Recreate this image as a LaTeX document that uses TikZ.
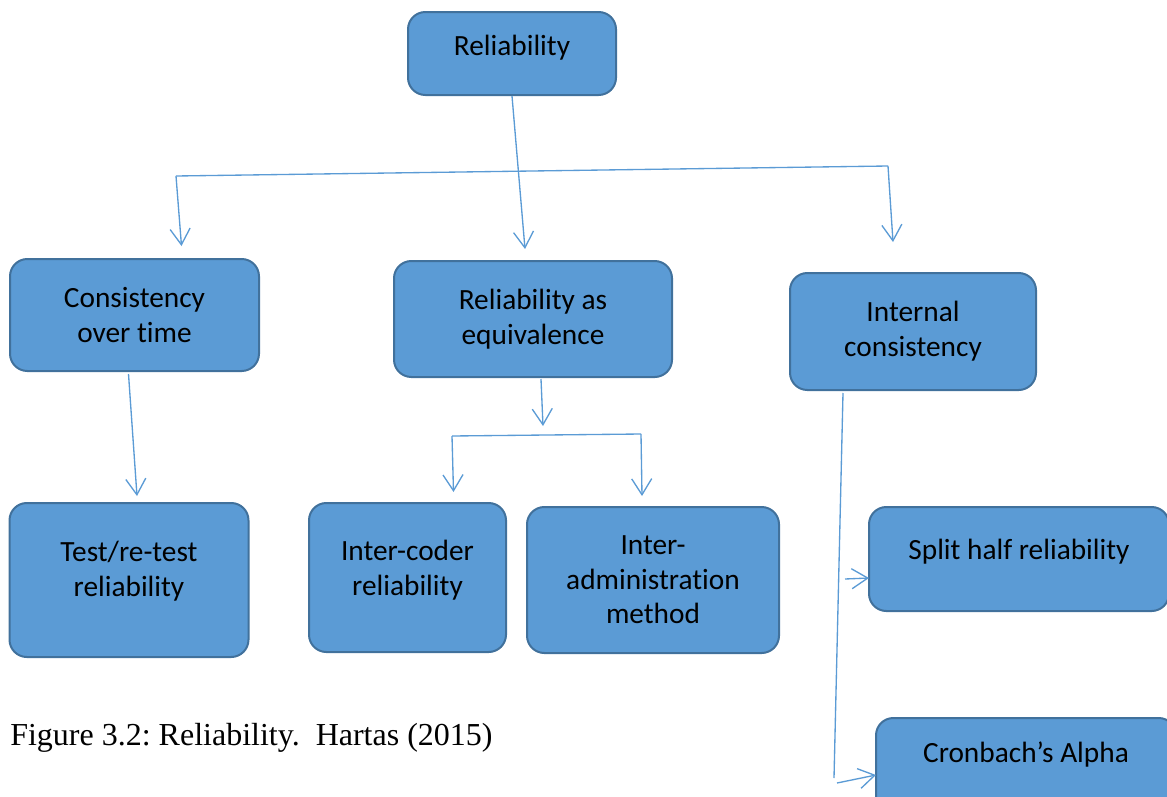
\documentclass[tikz,border=0pt]{standalone}
\usepackage{fontspec}
\setmainfont{Carlito}[Ligatures=NoCommon]
\newfontfamily\capfont{Liberation Serif}
\usetikzlibrary{arrows.meta,calc}
\definecolor{boxfill}{HTML}{5B9BD5}
\definecolor{boxline}{HTML}{41719C}
\definecolor{linkcol}{HTML}{5B9BD5}

\begin{document}
\begin{tikzpicture}[x=0.75pt, y=-0.75pt,
    box/.style={draw=boxline, fill=boxfill, line width=1.5pt, rounded corners=13pt,
      align=center, font=\fontsize{22}{26}\selectfont},
    link/.style={draw=linkcol, line width=1pt},
    arr/.style={link, -{Straight Barb[length=12pt, width=15pt]}}]
    \useasboundingbox (0,0) rectangle (1167,796);

    % --- Top: Reliability ---
    \node[box, minimum width=156pt, minimum height=62.25pt, text height=10pt, text depth=7.2pt] (rel) at (512,53.5) {Reliability};

    % --- Middle row ---
    \node[box, minimum width=186.75pt, minimum height=84pt] (cons) at (134.5,315) {Consistency\\over time};
    \node[box, minimum width=208.5pt, minimum height=87pt] (equiv) at (533,319) {Reliability as\\equivalence};
    \node[box, minimum width=184.5pt, minimum height=87.75pt] (intc) at (913,331.5) {Internal\\consistency};

    % --- Bottom row ---
    \node[box, minimum width=179.25pt, minimum height=115.5pt, text depth=16.5pt] (test) at (129,580) {Test/re-test\\reliability};
    \node[box, minimum width=147.75pt, minimum height=111.75pt, text depth=14.5pt] (coder) at (407.5,577.5) {Inter-coder\\reliability};
    \node[box, minimum width=189pt, minimum height=109.5pt] (admin) at (653,580) {Inter-\\administration\\method};
    \node[box, minimum width=225pt, minimum height=78pt, text height=10pt, text depth=9.5pt] (split) at (1019,559) {Split half reliability};
    \node[box, anchor=north, minimum width=225pt, minimum height=82.5pt, text height=10pt, text depth=26pt] (cron) at (1026,717) {Cronbach’s Alpha};

    % Caption
    \node[anchor=base west, inner sep=0pt, font=\capfont\fontsize{24}{28}\selectfont] (cap) at (10,745) {\frenchspacing Figure 3.2: Reliability.\hspace{0.5em}Hartas (2015)};

    % Branch from the top
    \coordinate (jl) at (176,176);
    \coordinate (jr) at (888,166);
    \draw[link] (jl) -- (jr);
    \draw[arr] (rel.south) -- ($(equiv.north)+(-8,-11)$);
    \draw[arr] (jl) -- ($(cons.north)+(47,-12)$);
    \draw[arr] (jr) -- ($(intc.north)+(-20,-30)$);

    % Consistency over time
    \draw[arr] ($(cons.south)+(-6,2)$) -- ($(test.north)+(8,-6)$);

    % Equivalence
    \coordinate (eqtip) at (543,426);
    \coordinate (sl) at (452,436);
    \coordinate (sr) at (641,434);
    \draw[arr] ($(equiv.south)+(8,1)$) -- (eqtip);
    \draw[link] (sl) -- (sr);
    \draw[arr] (sl) -- ($(coder.north)+(46,-10)$);
    \draw[arr] (sr) -- ($(admin.north)+(-11,-10)$);

    % Internal consistency
    \coordinate (ibot) at (834,778);
    \coordinate (sa) at (845,579);
    \coordinate (ca) at (837,783);
    \draw[link] ($(intc.south west)+(54,2)$) -- (ibot);
    \draw[arr] (sa) -- ($(split.west)+(1,19)$);
    \draw[arr] (ca) -- ($(cron.north west)+(1,58)$);
\end{tikzpicture}
\end{document}
